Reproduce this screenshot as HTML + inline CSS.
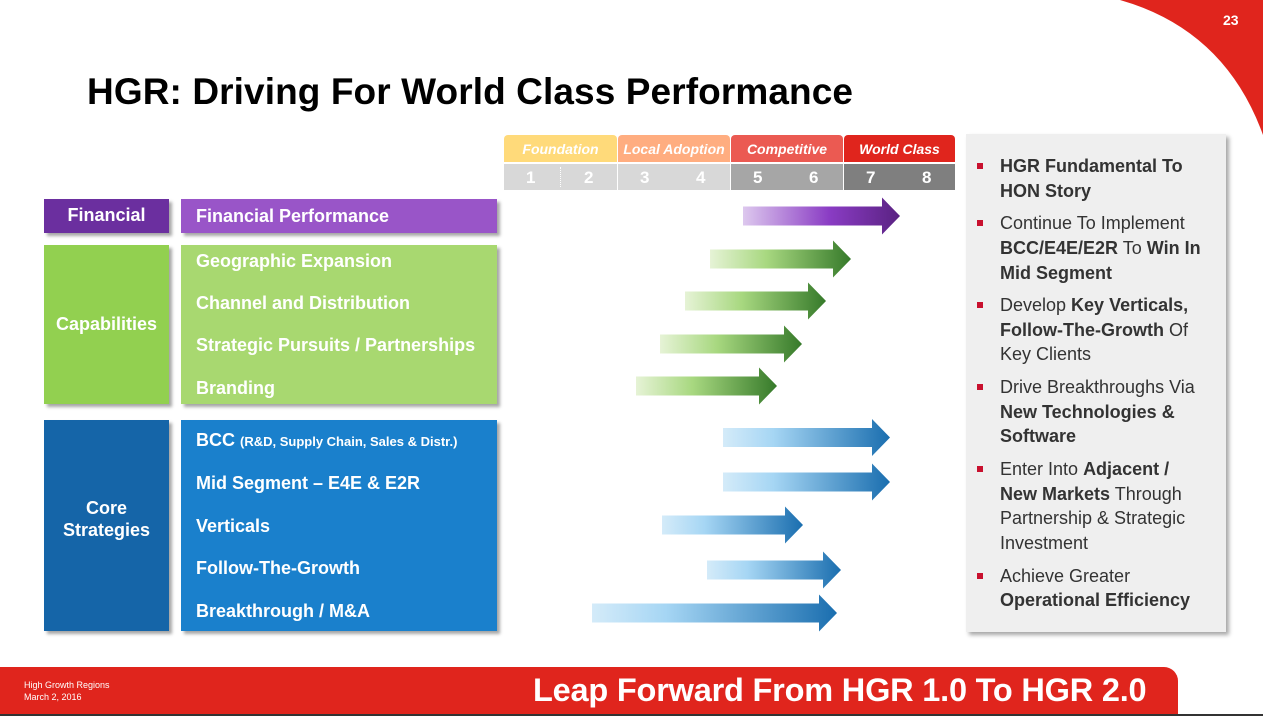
<!DOCTYPE html>
<html><head><meta charset="utf-8"><style>
body{margin:0;width:1263px;height:716px;overflow:hidden;background:#fff;font-family:"Liberation Sans",Arial,sans-serif;position:relative}
.a{position:absolute}
.box{position:absolute;box-shadow:3px 3px 3px rgba(0,0,0,.35);color:#fff;font-weight:bold}
.lbl{position:absolute;color:#fff;font-weight:bold;font-size:18px;left:196px}
.hd{position:absolute;height:27px;top:135px;color:#fff;font-style:italic;font-weight:bold;font-size:14px;text-align:center;line-height:29px;border-radius:4px 4px 0 0}
.nm{position:absolute;top:164px;height:26px;color:#fff;font-weight:bold;font-size:17px;line-height:28px}
.rl{position:absolute;left:1000px;font-size:18px;color:#333;line-height:22px;white-space:nowrap}
.bu{position:absolute;left:977px;width:6px;height:6px;background:#c8102e}
</style></head><body>
<svg class="a" style="left:0;top:0" width="1263" height="716">
<path d="M1120,0 Q1225,30 1263,135 L1263,0 Z" fill="#e0251d"/>
<defs>
<linearGradient id="gp" x1="0" x2="1"><stop offset="0" stop-color="#ddc8ee"/><stop offset=".55" stop-color="#8a3cc4"/><stop offset="1" stop-color="#5a2282"/></linearGradient>
<linearGradient id="gg" x1="0" x2="1"><stop offset="0" stop-color="#e6f3d6"/><stop offset=".4" stop-color="#a8d880"/><stop offset="1" stop-color="#367a2a"/></linearGradient>
<linearGradient id="gb" x1="0" x2="1"><stop offset="0" stop-color="#d4ebf9"/><stop offset=".3" stop-color="#a6d6f4"/><stop offset="1" stop-color="#1a6eaf"/></linearGradient>
</defs>
<g id="arrows"></g>
</svg>
<div class="a" style="left:1223px;top:12px;color:#fff;font-weight:bold;font-size:14px">23</div>
<div class="a" style="left:87px;top:71px;font-size:37px;font-weight:bold;color:#000;letter-spacing:0.1px">HGR: Driving For World Class Performance</div>

<div class="hd" style="left:504px;width:113px;background:#ffda7a">Foundation</div>
<div class="hd" style="left:618px;width:112px;background:#ffad80">Local Adoption</div>
<div class="hd" style="left:731px;width:112px;background:#eb5a52">Competitive</div>
<div class="hd" style="left:844px;width:111px;background:#e0251d">World Class</div>
<div class="nm" style="left:504px;width:113px;background:#d8d8d8"><span class="a" style="left:22px">1</span><span class="a" style="left:80px">2</span><span class="a" style="left:56px;top:3px;height:20px;border-left:1px dotted #fff"></span></div>
<div class="nm" style="left:618px;width:112px;background:#d8d8d8"><span class="a" style="left:22px">3</span><span class="a" style="left:78px">4</span></div>
<div class="nm" style="left:731px;width:112px;background:#a6a6a6"><span class="a" style="left:22px">5</span><span class="a" style="left:78px">6</span></div>
<div class="nm" style="left:844px;width:111px;background:#7f7f7f"><span class="a" style="left:22px">7</span><span class="a" style="left:78px">8</span></div>

<div class="box" style="left:44px;top:199px;width:125px;height:34px;background:#6b2f9f;font-size:18px;text-align:center;line-height:32px">Financial</div>
<div class="box" style="left:181px;top:199px;width:316px;height:34px;background:#9955c8"></div>
<div class="box" style="left:44px;top:245px;width:125px;height:159px;background:#92d050;font-size:18px;text-align:center;line-height:158px">Capabilities</div>
<div class="box" style="left:181px;top:245px;width:316px;height:159px;background:#a8d870"></div>
<div class="box" style="left:44px;top:420px;width:125px;height:211px;background:#1565a8;font-size:18px;text-align:center;padding-top:77px;box-sizing:border-box;line-height:22px">Core<br>Strategies</div>
<div class="box" style="left:181px;top:420px;width:316px;height:211px;background:#1a80cc"></div>
<div class="lbl" style="top:206px">Financial Performance</div>
<div class="lbl" style="top:251px">Geographic Expansion</div>
<div class="lbl" style="top:293px">Channel and Distribution</div>
<div class="lbl" style="top:335px">Strategic Pursuits / Partnerships</div>
<div class="lbl" style="top:378px">Branding</div>
<div class="lbl" style="top:430px">BCC <span style="font-size:13px">(R&amp;D, Supply Chain, Sales &amp; Distr.)</span></div>
<div class="lbl" style="top:473px">Mid Segment – E4E &amp; E2R</div>
<div class="lbl" style="top:516px">Verticals</div>
<div class="lbl" style="top:558px">Follow-The-Growth</div>
<div class="lbl" style="top:601px">Breakthrough / M&amp;A</div>

<div class="a" style="left:966px;top:134px;width:260px;height:498px;background:#efefef;box-shadow:3px 3px 4px rgba(0,0,0,.35)"></div>
<div class="bu" style="top:163px"></div><div class="rl" style="top:155px"><b>HGR Fundamental To</b></div><div class="rl" style="top:180px"><b>HON Story</b></div>
<div class="bu" style="top:220px"></div><div class="rl" style="top:212px">Continue To Implement</div><div class="rl" style="top:237px"><b>BCC/E4E/E2R</b> To <b>Win In</b></div><div class="rl" style="top:262px"><b>Mid Segment</b></div>
<div class="bu" style="top:302px"></div><div class="rl" style="top:294px">Develop <b>Key Verticals,</b></div><div class="rl" style="top:319px"><b>Follow-The-Growth</b> Of</div><div class="rl" style="top:343px">Key Clients</div>
<div class="bu" style="top:384px"></div><div class="rl" style="top:376px">Drive Breakthroughs Via</div><div class="rl" style="top:401px"><b>New Technologies &amp;</b></div><div class="rl" style="top:425px"><b>Software</b></div>
<div class="bu" style="top:466px"></div><div class="rl" style="top:458px">Enter Into <b>Adjacent /</b></div><div class="rl" style="top:483px"><b>New Markets</b> Through</div><div class="rl" style="top:507px">Partnership &amp; Strategic</div><div class="rl" style="top:532px">Investment</div>
<div class="bu" style="top:573px"></div><div class="rl" style="top:565px">Achieve Greater</div><div class="rl" style="top:589px"><b>Operational Efficiency</b></div>

<div class="a" style="left:0;top:667px;width:1178px;height:49px;background:#e0251d;border-top-right-radius:14px"></div>
<div class="a" style="left:0;top:714px;width:1263px;height:2px;background:#333"></div>
<div class="a" style="left:24px;top:679px;color:#fff;font-size:9px;line-height:12px">High Growth Regions<br>March 2, 2016</div>
<div class="a" style="left:533px;top:672px;color:#fff;font-weight:bold;font-size:32.5px;letter-spacing:-0.2px">Leap Forward From HGR 1.0 To HGR 2.0</div>
<script>
var A=[[743,900,216,'gp'],[710,851,259,'gg'],[685,826,301,'gg'],[660,802,344,'gg'],[636,777,386,'gg'],[723,890,437.5,'gb'],[723,890,482,'gb'],[662,803,525,'gb'],[707,841,570,'gb'],[592,837,613,'gb']];
var s='';A.forEach(function(a){var x0=a[0],x1=a[1],c=a[2],h=x1-18;
s+='<path fill="url(#'+a[3]+')" d="M'+x0+','+(c-9.5)+'L'+h+','+(c-9.5)+'L'+h+','+(c-18.5)+'L'+x1+','+c+'L'+h+','+(c+18.5)+'L'+h+','+(c+9.5)+'L'+x0+','+(c+9.5)+'Z"/>';});
document.getElementById('arrows').innerHTML=s;
</script>
</body></html>
